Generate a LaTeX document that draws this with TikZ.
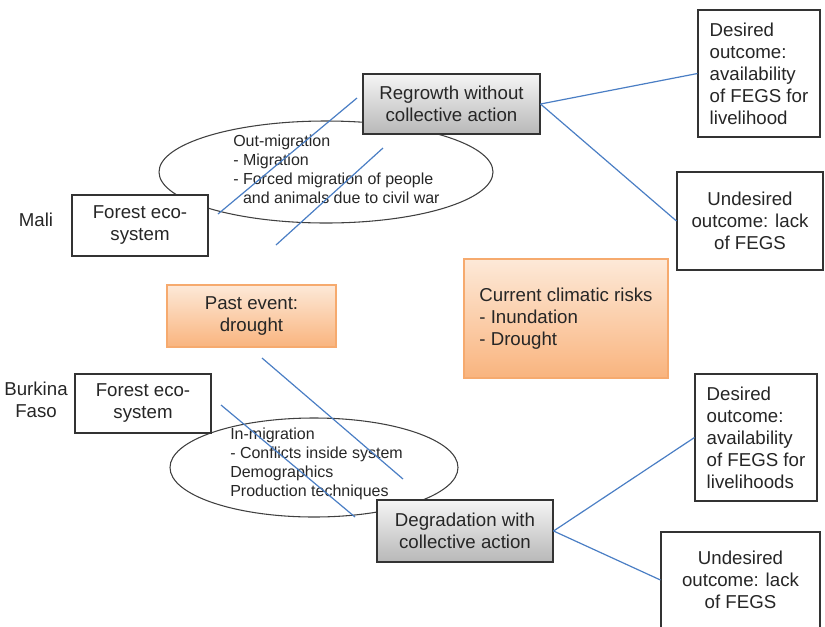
\documentclass[tikz,border=0pt]{standalone}
\usepackage{fontspec}
\setmainfont{Liberation Sans}
\usetikzlibrary{shapes.geometric,shadows}
\definecolor{linkblue}{RGB}{74,126,196}
\definecolor{orangetop}{RGB}{253,233,216}
\definecolor{orangebot}{RGB}{249,180,126}
\definecolor{orangeedge}{RGB}{246,170,110}
\begin{document}
\begin{tikzpicture}[x=0.75pt,y=-0.75pt,
		txt/.style={font=\fontsize{14}{16.5}\selectfont,text=black!85,align=center},
		ebox/.style={txt,draw=black!80,line width=0.8pt,fill=white,inner sep=0pt,
				drop shadow={shadow xshift=0.8pt,shadow yshift=-0.8pt,opacity=0.2}},
		gbox/.style={ebox,top color=black!4,bottom color=black!28},
		obox/.style={ebox,draw=orangeedge,top color=orangetop,bottom color=orangebot},
		oval/.style={ellipse,draw=black!75,line width=0.8pt,inner sep=0pt},
		otxt/.style={font=\fontsize{12}{14.3}\selectfont,text=black!85,align=left,inner sep=0pt},
		link/.style={draw=linkblue,line width=0.9pt}]
	\useasboundingbox (0,0) rectangle (825,626);
	\clip (0,0) rectangle (825,626);

	% Mali
	\node[txt] (mali) at (36,220) {Mali};
	\node[oval,minimum width=250.5pt,minimum height=76.5pt] (malioval) at (326,172) {};
	\node[otxt,anchor=west] (malitxt) at (233,169) {Out-migration\\- Migration\\- Forced migration of people\\\phantom{- }and animals due to civil war};
	\node[ebox,minimum width=102pt,minimum height=45.75pt] (maliforest) at (140,225.5) {Forest eco-\\system};
	\node[gbox,minimum width=132.75pt,minimum height=45pt] (regrowth) at (451.5,104) {Regrowth without\\collective action};
	\node[ebox,align=left,minimum width=91.5pt,minimum height=95.25pt] (malidesired) at (759,73.5) {Desired\\outcome:\\availability\\of FEGS for\\livelihood};
	\node[ebox,minimum width=109.5pt,minimum height=73.5pt] (maliundesired) at (750,221) {Undesired\\outcome: lack\\of FEGS};

	% climatic events
	\node[obox,align=left,minimum width=153pt,minimum height=89.25pt] (risks) at (566,318.5) {Current climatic risks\\- Inundation\\- Drought};
	\node[obox,minimum width=126.75pt,minimum height=46.5pt] (past) at (251.5,316) {Past event:\\drought};

	% Burkina Faso
	\node[txt] (burkina) at (36,399.5) {Burkina\\Faso};
	\node[oval,minimum width=216pt,minimum height=74.25pt] (bfoval) at (314,467.5) {};
	\node[otxt,anchor=west] (bftxt) at (230,464) {In-migration\\- Conflicts inside system\\Demographics\\Production techniques};
	\node[ebox,minimum width=102pt,minimum height=44.25pt] (bfforest) at (143,403.5) {Forest eco-\\system};
	\node[gbox,minimum width=132pt,minimum height=46.5pt] (degradation) at (465,531) {Degradation with\\collective action};
	\node[ebox,align=left,minimum width=91.5pt,minimum height=95.25pt] (bfdesired) at (756,437.5) {Desired\\outcome:\\availability\\of FEGS for\\livelihoods};
	\node[ebox,minimum width=119.25pt,minimum height=72pt] (bfundesired) at (740.5,580) {Undesired\\outcome: lack\\of FEGS};

	% outcomes
	\draw[link] (regrowth.east) -- (malidesired.west);
	\draw[link] (regrowth.east) -- (maliundesired.west);
	\draw[link] (degradation.east) -- (bfdesired.west);
	\draw[link] (degradation.east) -- (bfundesired.west);

	% strokes
	\coordinate (m1a) at (218,214);
	\coordinate (m1b) at (357,98);
	\coordinate (m2a) at (276,245);
	\coordinate (m2b) at (383,148);
	\coordinate (b1a) at (262,358);
	\coordinate (b1b) at (403,479);
	\coordinate (b2a) at (221,405);
	\coordinate (b2b) at (355,517);
	\draw[link] (m1a) -- (m1b);
	\draw[link] (m2a) -- (m2b);
	\draw[link] (b1a) -- (b1b);
	\draw[link] (b2a) -- (b2b);
\end{tikzpicture}
\end{document}
